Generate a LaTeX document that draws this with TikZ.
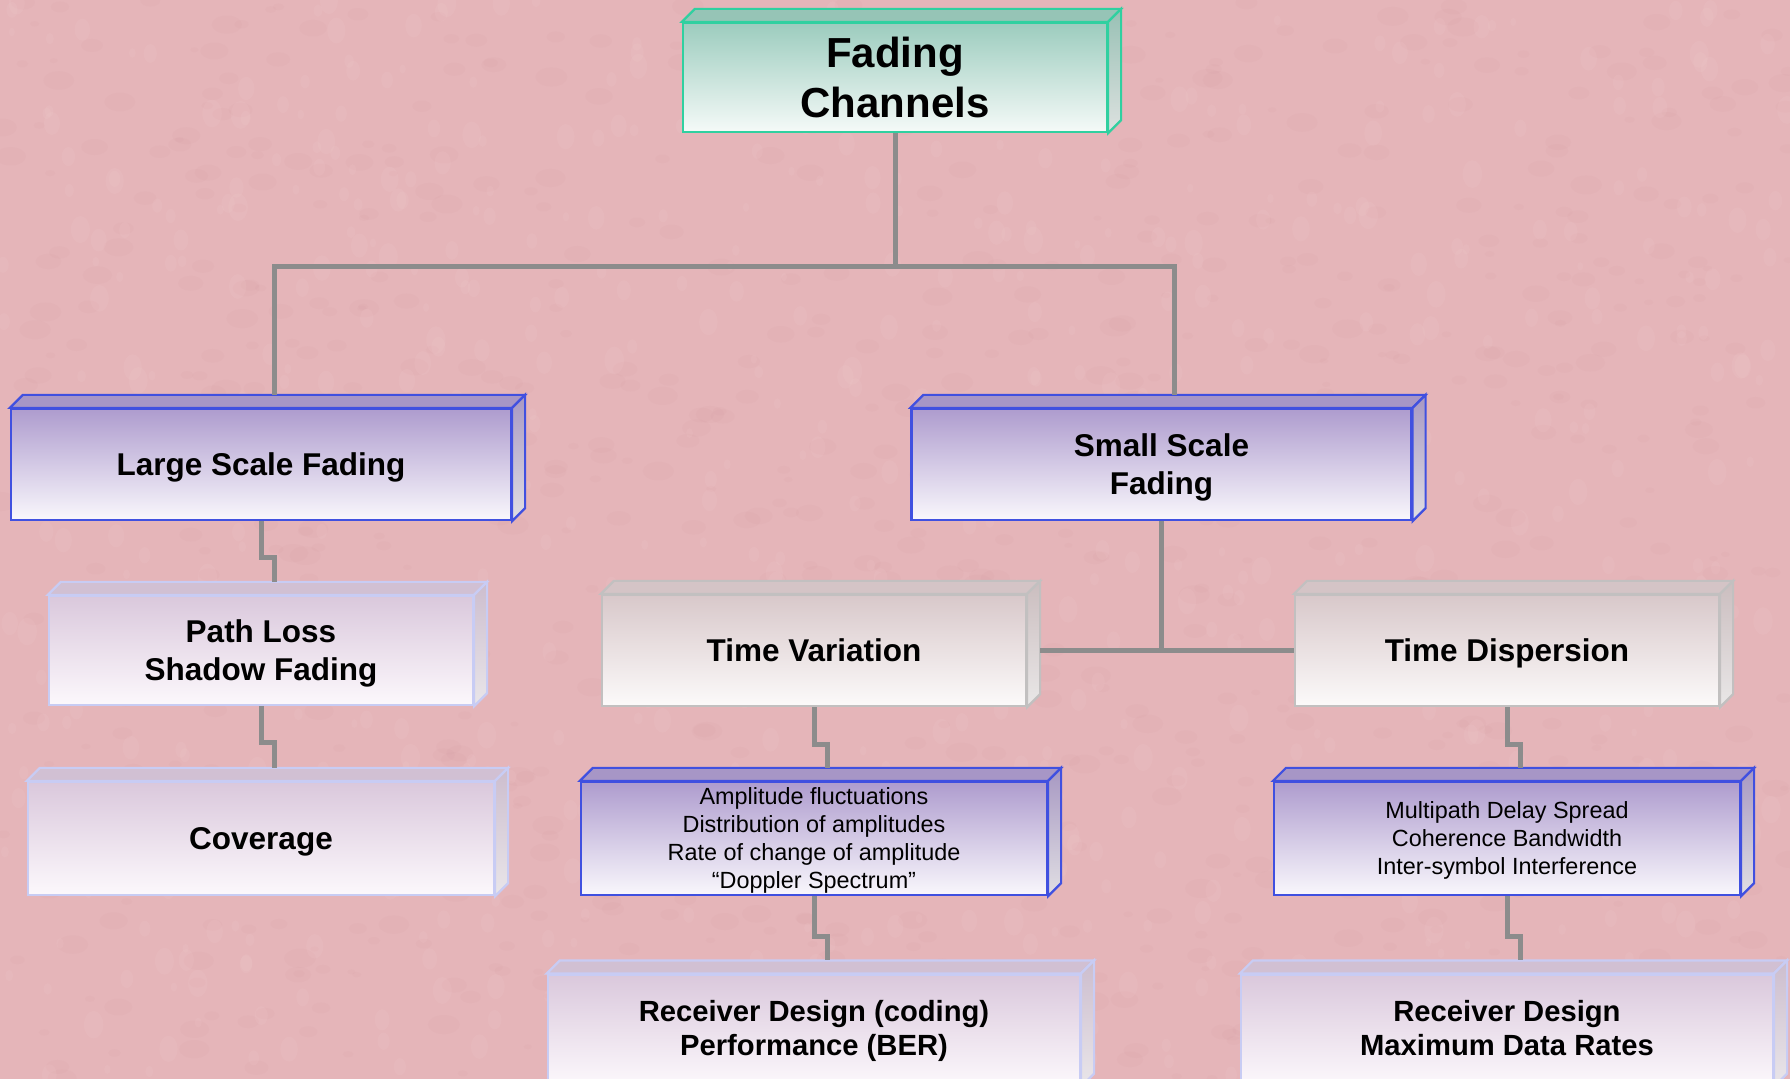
\documentclass[tikz,border=0pt]{standalone}
\usepackage{fontspec}
\setmainfont{Liberation Sans}
\usepackage{tikz}

\definecolor{bgpink}{RGB}{229,181,185}
\definecolor{bgdark}{RGB}{205,148,154}
\definecolor{bglight}{RGB}{245,210,210}
\definecolor{linkgray}{RGB}{140,140,140}
% teal box
\definecolor{tealline}{RGB}{48,208,160}
\definecolor{tealhi}{RGB}{156,204,190}
\definecolor{teallo}{RGB}{245,250,248}
% blue boxes
\definecolor{blueline}{RGB}{64,80,224}
\definecolor{bluehi}{RGB}{174,156,206}
\definecolor{bluelo}{RGB}{249,247,252}
% grey boxes
\definecolor{grayline}{RGB}{194,192,192}
\definecolor{grayhi}{RGB}{216,200,202}
\definecolor{graylo}{RGB}{252,250,250}
% lavender boxes
\definecolor{lavline}{RGB}{200,204,244}
\definecolor{lavhi}{RGB}{218,200,220}
\definecolor{lavlo}{RGB}{252,248,252}

\tikzset{
  frontbox/.style={rectangle, inner sep=0pt, align=center, line width=1.1pt},
  tealbox/.style={frontbox, draw=tealline, top color=tealhi, bottom color=teallo},
  tealtop/.style={draw=tealline, line width=1.1pt, fill=tealhi!96!black},
  tealside/.style={draw=tealline, line width=1.1pt, top color=tealhi!85!gray, bottom color=teallo!80!gray},
  bluebox/.style={frontbox, draw=blueline, top color=bluehi, bottom color=bluelo},
  bluetop/.style={draw=blueline, line width=1.1pt, fill=bluehi!96!black},
  blueside/.style={draw=blueline, line width=1.1pt, top color=bluehi!85!gray, bottom color=bluelo!80!gray},
  graybox/.style={frontbox, draw=grayline, top color=grayhi, bottom color=graylo},
  graytop/.style={draw=grayline, line width=1.1pt, fill=grayhi!98!black},
  grayside/.style={draw=grayline, line width=1.1pt, top color=grayhi!85!gray, bottom color=graylo!85!gray},
  lavbox/.style={frontbox, draw=lavline, top color=lavhi, bottom color=lavlo},
  lavtop/.style={draw=lavline, line width=1.1pt, fill=lavhi!96!black},
  lavside/.style={draw=lavline, line width=1.1pt, top color=lavhi!85!gray, bottom color=lavlo!85!gray},
  bigtxt/.style={font=\bfseries\fontsize{21}{25}\selectfont, text depth=-5pt},
  midtxt/.style={font=\bfseries\fontsize{15.75}{19}\selectfont, text depth=-5pt},
  lowtxt/.style={font=\bfseries\fontsize{14.6}{17}\selectfont, text depth=2pt},
  smalltxt/.style={font=\fontsize{11.7}{14}\selectfont, text depth=-2.5pt},
  link/.style={draw=linkgray, line width=2.5pt},
}

% top and side faces of a box node
\newcommand{\depthfaces}[2]{%
  \path[#2top] (#1.north west) -- ++(13,-13) -- ([shift={(13,-13)}]#1.north east) -- (#1.north east) -- cycle;
  \path[#2side] (#1.north east) -- ++(13,-13) -- ([shift={(13,-13)}]#1.south east) -- (#1.south east) -- cycle;
}

\begin{document}
\begin{tikzpicture}[x=0.5pt,y=-0.5pt]
\useasboundingbox (0,0) rectangle (1790,1079);
\clip (0,0) rectangle (1790,1079);

% mottled pink paper
\fill[bgpink] (0,0) rectangle (1790,1079);
\pgfmathsetseed{17}
\foreach \i in {1,...,900}{
	\pgfmathsetmacro{\px}{rnd*1790}
	\pgfmathsetmacro{\py}{rnd*1079}
	\pgfmathsetmacro{\rr}{4+rnd*12}
	\fill[bgdark, opacity=0.08] (\px,\py) ellipse ({\rr} and {0.6*\rr});
}
\foreach \i in {1,...,700}{
	\pgfmathsetmacro{\px}{rnd*1790}
	\pgfmathsetmacro{\py}{rnd*1079}
	\pgfmathsetmacro{\rr}{4+rnd*10}
	\fill[bglight, opacity=0.12] (\px,\py) ellipse ({0.7*\rr} and {\rr});
}

% boxes
\node[tealbox, bigtxt, minimum width=212pt, minimum height=54.5pt] (fade) at (895,77.5) {Fading\\Channels};

\node[bluebox, midtxt, minimum width=250pt, minimum height=55.5pt] (large) at (261,464.5) {Large Scale Fading};
\node[bluebox, midtxt, minimum width=250pt, minimum height=55.5pt] (small) at (1161.5,464.5) {Small Scale\\Fading};

\node[lavbox, midtxt, minimum width=212pt, minimum height=54.5pt] (loss) at (261,650.5) {Path Loss\\Shadow Fading};
\node[lavbox, midtxt, minimum width=233pt, minimum height=56.5pt] (cover) at (261,838.5) {Coverage};

\node[graybox, midtxt, minimum width=212pt, minimum height=55.5pt] (tvar) at (814,650.5) {Time Variation};
\node[graybox, midtxt, minimum width=212pt, minimum height=55.5pt] (tdisp) at (1507,650.5) {Time Dispersion};

\node[bluebox, smalltxt, minimum width=233pt, minimum height=56.5pt] (ampl) at (814,838.5)
	{Amplitude fluctuations\\Distribution of amplitudes\\Rate of change of amplitude\\“Doppler Spectrum”};
\node[bluebox, smalltxt, minimum width=233pt, minimum height=56.5pt] (multi) at (1507,838.5)
	{Multipath Delay Spread\\Coherence Bandwidth\\Inter-symbol Interference};

\node[lavbox, lowtxt, minimum width=266pt, minimum height=55.5pt] (rxc) at (814,1030) {Receiver Design (coding)\\Performance (BER)};
\node[lavbox, lowtxt, minimum width=266pt, minimum height=55.5pt] (rxd) at (1507,1030) {Receiver Design\\Maximum Data Rates};

\depthfaces{fade}{teal}
\foreach \n in {large,small,ampl,multi}{\depthfaces{\n}{blue}}
\foreach \n in {tvar,tdisp}{\depthfaces{\n}{gray}}
\foreach \n in {loss,cover,rxc,rxd}{\depthfaces{\n}{lav}}

% connectors
\draw[link] (fade.south) -- ++(0,133) coordinate (bus);
\draw[link] ([shift={(13,-13)}]large.north) |- (bus) -| ([shift={(13,-13)}]small.north);

\draw[link] (large.south) -- ++(0,36) -| ([shift={(13,-13)}]loss.north);
\draw[link] (loss.south) -- ++(0,36) -| ([shift={(13,-13)}]cover.north);

\draw[link] (small.south) -- (small.south |- tdisp.west);
\draw[link] ([shift={(13,0)}]tvar.east) -- (tdisp.west);

\draw[link] (tvar.south) -- ++(0,37) -| ([shift={(13,-13)}]ampl.north);
\draw[link] (tdisp.south) -- ++(0,37) -| ([shift={(13,-13)}]multi.north);
\draw[link] (ampl.south) -- ++(0,40) -| ([shift={(13,-13)}]rxc.north);
\draw[link] (multi.south) -- ++(0,40) -| ([shift={(13,-13)}]rxd.north);

\end{tikzpicture}
\end{document}
